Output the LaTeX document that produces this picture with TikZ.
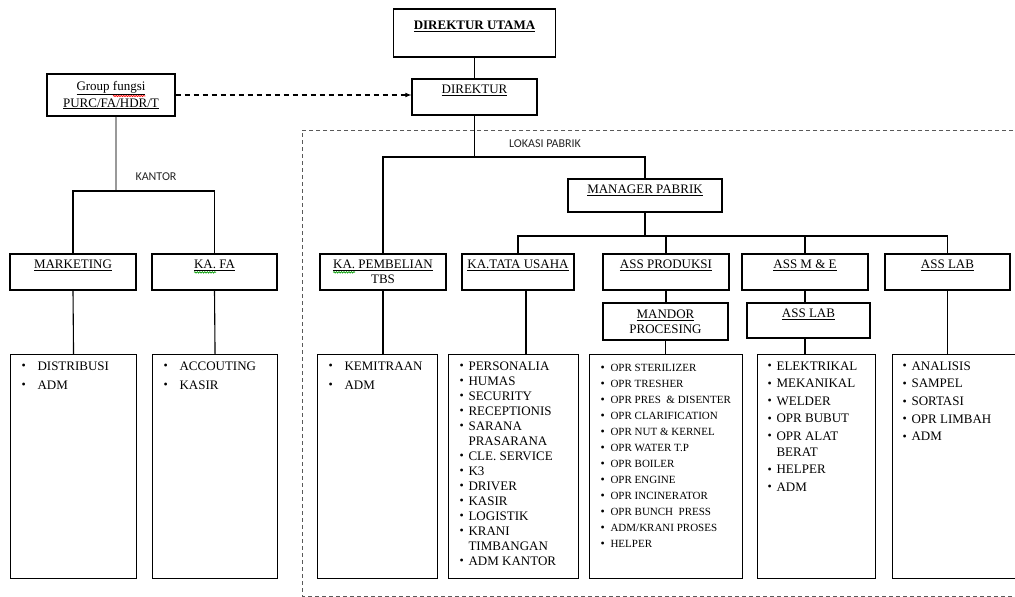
\documentclass[tikz,border=0pt]{standalone}
\usepackage{fontspec}
\setmainfont{Liberation Serif}
\newfontfamily\labelfont{Carlito}
\usepackage{enumitem}
\usepackage{tikz}
\usetikzlibrary{decorations.pathmorphing}
\newcommand{\kepala}{\fontsize{13}{15}\selectfont}
\tikzstyle{kotak}=[draw, line width=1.1pt, minimum width=126pt, minimum height=36pt, align=center, inner sep=1pt, font=\kepala]
\tikzstyle{daftar}=[draw, line width=1.1pt, anchor=north west, inner sep=0pt]
\tikzstyle{garis}=[line width=1.1pt]
\tikzstyle{batas}=[line width=1pt, black!65, dash pattern=on 4pt off 3pt]
\tikzstyle{ket}=[font=\labelfont\fontsize{12}{14}\selectfont, text=black!85]
\tikzstyle{polos}=[draw=none, minimum width=0pt, minimum height=0pt, inner sep=0pt, outer sep=0pt, align=left]
\tikzstyle{gelombang}=[overlay, line width=0.7pt, decorate, decoration={snake, amplitude=0.7pt, segment length=2.5pt}]
\newcommand{\barisatas}{272}
\newcommand{\barisdaftar}{354}
\newcommand{\tinggidaftar}{224pt}

\newlist{tugas}{itemize}{1}
\setlist[tugas]{label={\raisebox{0.3pt}{\fontsize{12}{12}\selectfont\textbullet}}, nosep, align=left}

% garis berombak pemeriksa ejaan
\newcommand{\coretan}[3][3.6pt]{\tikz[baseline=(kata.base)]{\node[polos] (kata) {#3};
  \draw[gelombang, #2] ([yshift=-#1]kata.base west) -- ([yshift=-#1]kata.base east);}}

\newcommand{\isi}[2]{\begin{minipage}[t][\tinggidaftar][t]{#1}\raggedright#2\end{minipage}}

\begin{document}
\begin{tikzpicture}[x=1pt,y=-1pt]
  \useasboundingbox (0,0) rectangle (1015,597);

  % batas lokasi pabrik
  \draw[batas] (1020,130) -| (302,596) -- (1020,596);

  % pimpinan
  \node[kotak, minimum width=162pt, minimum height=48pt, font=\kepala\bfseries] (dirut) at (474.5,33) {\underline{DIREKTUR UTAMA}\\\mbox{}};
  \node[kotak, minimum width=125pt] (dir) at (474.5,97) {\underline{DIREKTUR}\\\mbox{}};
  \node[kotak, minimum width=128pt, minimum height=42pt] (grp) at (111,95) {\underline{Group \coretan[6pt]{red}{fungsi}}\\[2pt]\underline{PURC/FA/HDR/T}};

  \draw[garis] (dirut) -- (dir);
  \draw[garis, dash pattern=on 5pt off 4pt, -latex] (grp.east) -- (grp.east -| dir.west);

  % kantor
  \coordinate (jkantor) at (116,191);
  \node[ket] (kantor) at (156,177) {KANTOR};
  \node[kotak] (mkt) at (73,\barisatas) {\underline{MARKETING}\\\mbox{}};
  \node[kotak, minimum width=125pt] (kafa) at (214.5,\barisatas) {\underline{\coretan{green!60!black}{KA.} FA}\\\mbox{}};

  \node[daftar, font=\fontsize{13}{19}\selectfont] (mktlist) at (10,\barisdaftar)
    {\isi{126pt}{\vspace{7pt}\begin{tugas}[left=11pt..27pt]\item DISTRIBUSI\item ADM\end{tugas}}};
  \node[daftar, font=\fontsize{13}{19}\selectfont] (kafalist) at (152,\barisdaftar)
    {\isi{125pt}{\vspace{7pt}\begin{tugas}[left=11pt..27pt]\item ACCOUTING\item KASIR\end{tugas}}};

  \draw[garis, black!40] (grp.south -| jkantor) -- (jkantor);
  \draw[garis] (mkt.north) |- (jkantor) -| (kafa.north);
  \draw[garis] (mkt.south) -- (mktlist.north);
  \draw[garis] (kafa.south) -- (kafalist.north);

  % lokasi pabrik
  \coordinate (jpabrik) at (474.5,157);
  \node[ket] (lokasi) at (545,144) {LOKASI PABRIK};
  \node[kotak, minimum width=154pt, minimum height=33pt] (mgr) at (645,195.5) {\underline{MANAGER PABRIK}\\[-3pt]\mbox{}};
  \node[kotak] (kapem) at (383,\barisatas) {\underline{\coretan{green!60!black}{KA.} PEMBELIAN}\\TBS};

  \draw[garis] (dir.south) -- (jpabrik);
  \draw[garis] (kapem.north) |- (jpabrik) -| (mgr.north);

  \coordinate (jmgr) at (645,236);
  \node[kotak, minimum width=112pt] (ktu) at (518,\barisatas) {\underline{KA.TATA USAHA}\\\mbox{}};
  \node[kotak] (prod) at (666,\barisatas) {\underline{ASS PRODUKSI}\\\mbox{}};
  \node[kotak] (me) at (805,\barisatas) {\underline{ASS M \& E}\\\mbox{}};
  \node[kotak, minimum width=125pt] (lab) at (947.5,\barisatas) {\underline{ASS LAB}\\\mbox{}};
  \node[kotak, minimum width=125pt, minimum height=37pt] (mandor) at (665.5,321.5) {\underline{MANDOR}\\PROCESING};
  \node[kotak, minimum width=123pt, minimum height=35pt] (lab2) at (808.5,320.5) {\underline{ASS LAB}\\\mbox{}};

  \draw[garis] (mgr.south) -- (jmgr);
  \draw[garis] (ktu.north) |- (jmgr) -| (lab.north);
  \draw[garis] (prod.north) -- (prod.north |- jmgr);
  \draw[garis] (me.north) -- (me.north |- jmgr);

  \node[daftar, font=\fontsize{13}{19}\selectfont] (kapemlist) at (317,\barisdaftar)
    {\isi{120pt}{\vspace{7pt}\begin{tugas}[left=11pt..27pt]\item KEMITRAAN\item ADM\end{tugas}}};
  \node[daftar, font=\fontsize{13}{15}\selectfont] (ktulist) at (448,\barisdaftar)
    {\isi{130pt}{\vspace{7pt}\begin{tugas}[left=11pt..20pt]
      \item PERSONALIA\item HUMAS\item SECURITY\item RECEPTIONIS
      \item SARANA\newline PRASARANA\item CLE. SERVICE\item K3\item DRIVER
      \item KASIR\item LOGISTIK\item KRANI\newline TIMBANGAN\item ADM KANTOR\end{tugas}}};
  \node[daftar, font=\fontsize{11}{16}\selectfont] (prodlist) at (589,\barisdaftar)
    {\isi{153pt}{\vspace{10pt}\begin{tugas}[left=11pt..21pt]
      \item OPR STERILIZER\item OPR TRESHER\item OPR PRES \ \& DISENTER
      \item OPR CLARIFICATION\item OPR NUT \& KERNEL\item OPR WATER T.P
      \item OPR BOILER\item OPR ENGINE\item OPR INCINERATOR
      \item OPR BUNCH \ PRESS\item ADM/KRANI PROSES\item HELPER\end{tugas}}};
  \node[daftar, font=\fontsize{13}{16}\selectfont] (melist) at (757,\barisdaftar)
    {\isi{118pt}{\vspace{7pt}\begin{tugas}[left=10pt..19pt, itemsep=1.5pt]
      \item ELEKTRIKAL\item MEKANIKAL\item WELDER\item OPR BUBUT
      \item OPR ALAT\newline BERAT\item HELPER\item ADM\end{tugas}}};
  \node[daftar, font=\fontsize{13}{16}\selectfont] (lablist) at (892,\barisdaftar)
    {\isi{130pt}{\vspace{7pt}\begin{tugas}[left=10pt..19pt, itemsep=1.7pt]
      \item ANALISIS\item SAMPEL\item SORTASI\item OPR LIMBAH\item ADM\end{tugas}}};

  \coordinate (ktuturun) at ([xshift=8pt]ktu.south);
  \draw[garis] (kapem.south) -- (kapem.south |- kapemlist.north);
  \draw[garis] (ktuturun) -- (ktuturun |- ktulist.north);
  \draw[garis] (prod.south) -- (prod.south |- mandor.north);
  \draw[garis] (mandor.south) -- (mandor.south |- prodlist.north);
  \draw[garis] (me.south) -- (me.south |- lab2.north);
  \draw[garis] (me.south |- lab2.south) -- (me.south |- melist.north);
  \draw[garis] (lab.south) -- (lab.south |- lablist.north);
\end{tikzpicture}
\end{document}
